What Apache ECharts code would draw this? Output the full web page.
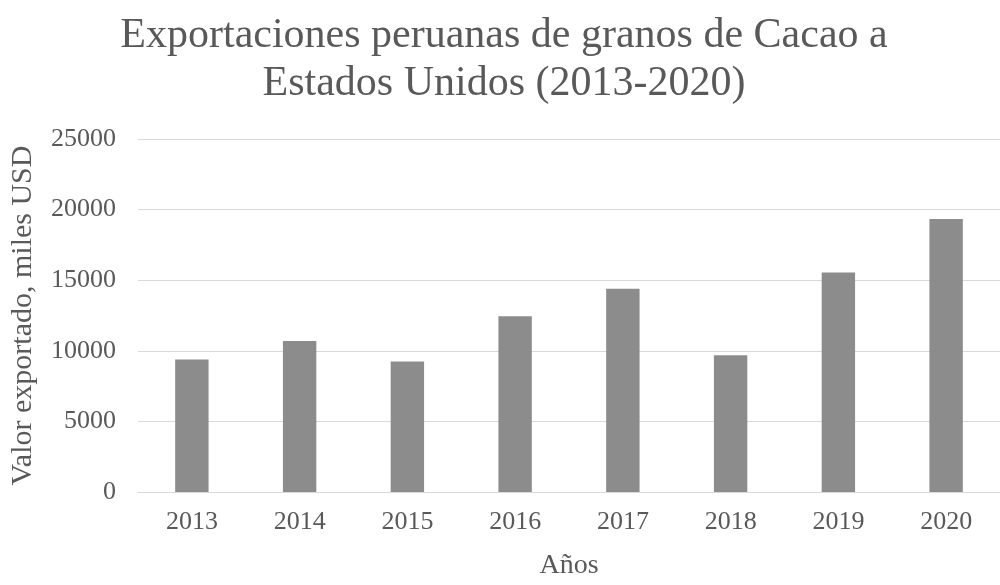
<!DOCTYPE html>
<html>
<head>
<meta charset="utf-8">
<script src="https://cdn.jsdelivr.net/npm/echarts@6/dist/echarts.min.js"></script>
<style>
  html, body { margin: 0; padding: 0; background: #ffffff; }
  #chart { width: 1000px; height: 585px; }
</style>
</head>
<body>
<div id="chart"></div>
<script>
// Peruvian cocoa-bean exports to the United States, thousands of USD
const years = ['2013', '2014', '2015', '2016', '2017', '2018', '2019', '2020'];
const exportValues = [9390, 10700, 9250, 12450, 14400, 9690, 15550, 19330];
const yTicks = { min: 0, max: 25000, interval: 5000 };

const SERIF = '"Liberation Serif", "Times New Roman", serif';
const TEXT = '#595959';

const chart = echarts.init(document.getElementById('chart'), null, { renderer: 'canvas' });

chart.setOption({
  backgroundColor: '#ffffff',
  animation: false,
  title: {
    text: 'Exportaciones peruanas de granos de Cacao a\nEstados Unidos (2013-2020)',
    left: 499,
    top: 7,
    textAlign: 'center',
    textStyle: {
      fontFamily: SERIF,
      fontWeight: 'normal',
      fontSize: 42,
      lineHeight: 48,
      color: TEXT
    }
  },
  grid: {
    left: 138,
    top: 139,
    width: 874,
    bottom: 83,
    containLabel: false
  },
  xAxis: {
    type: 'category',
    data: years,
    name: 'Años',
    nameLocation: 'middle',
    nameGap: 60,
    nameTextStyle: { fontFamily: SERIF, fontSize: 28, color: TEXT },
    axisLine: { show: true, lineStyle: { color: '#d9d9d9', width: 1 } },
    axisTick: { show: false },
    axisLabel: { fontFamily: SERIF, fontSize: 26, color: TEXT, margin: 17 }
  },
  yAxis: {
    type: 'value',
    min: yTicks.min,
    max: yTicks.max,
    interval: yTicks.interval,
    name: 'Valor exportado, miles USD',
    nameLocation: 'middle',
    nameRotate: 90,
    nameGap: 100,
    nameTextStyle: { fontFamily: SERIF, fontSize: 30, color: TEXT },
    axisLine: { show: false },
    axisTick: { show: false },
    axisLabel: {
      fontFamily: SERIF,
      fontSize: 26,
      color: TEXT,
      margin: 22,
      formatter: (v) => String(v)
    },
    splitLine: { show: true, lineStyle: { color: '#d9d9d9', width: 1 } }
  },
  series: [{
    type: 'bar',
    data: exportValues,
    barWidth: '31%',
    itemStyle: { color: '#8c8c8c' }
  }]
});
</script>
</body>
</html>
